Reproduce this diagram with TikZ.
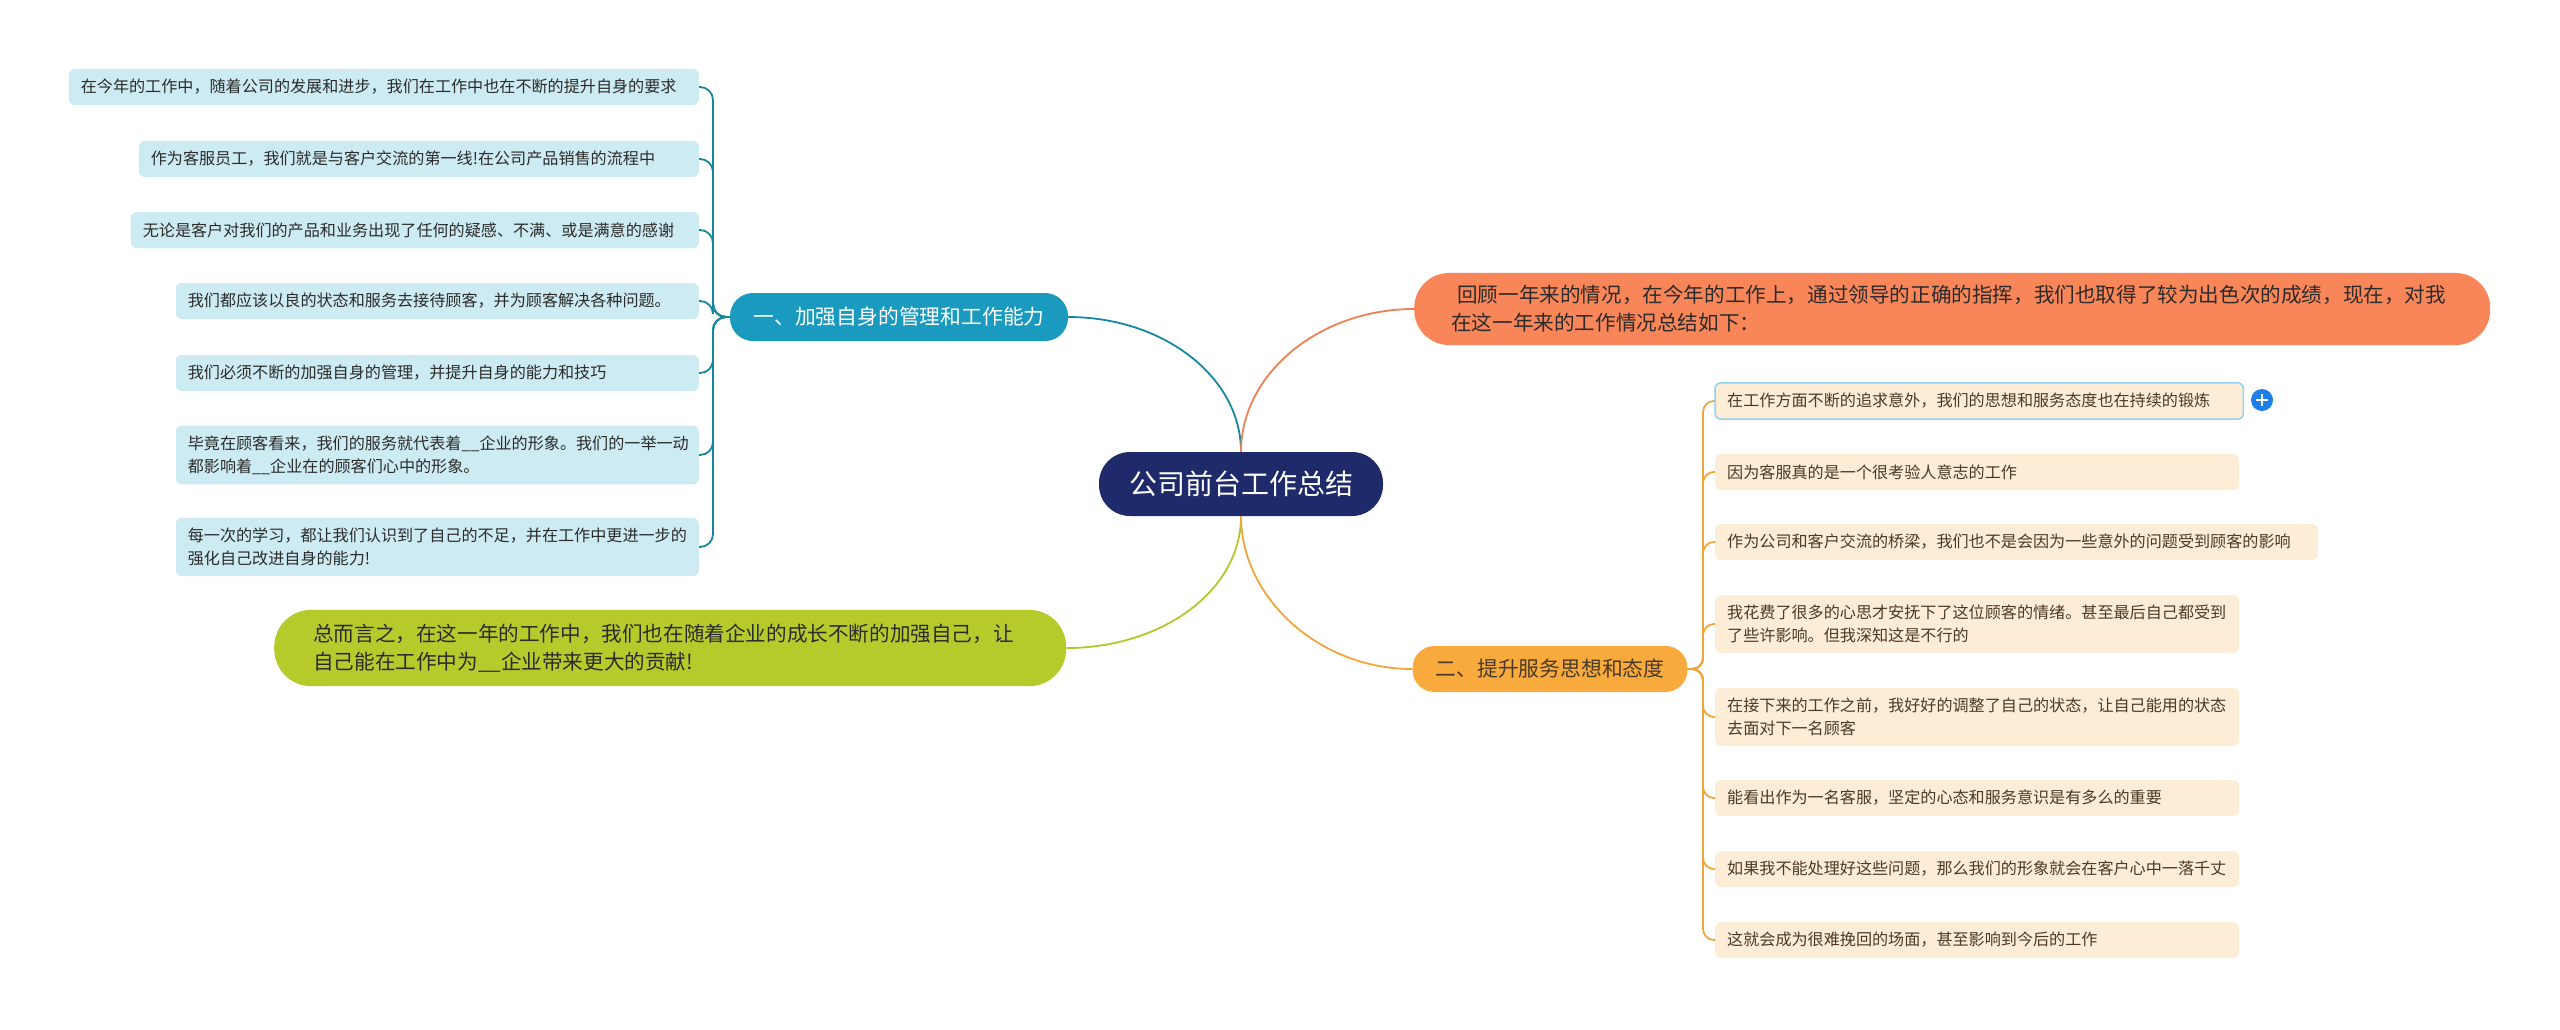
\documentclass[tikz,border=0pt]{standalone}
\usepackage{fontspec}
\setmainfont{Noto Sans CJK SC}
\usepackage{xcolor}
\usepackage{tikz}
\usetikzlibrary{calc}
\definecolor{rootNavy}{HTML}{1F2A6B}
\definecolor{brTeal}{HTML}{1A9ABF}
\definecolor{lnTeal}{HTML}{16879F}
\definecolor{leafBlue}{HTML}{CDEBF2}
\definecolor{introOrange}{HTML}{F88659}
\definecolor{lnOrange}{HTML}{EC8152}
\definecolor{brAmber}{HTML}{F9AA3D}
\definecolor{lnAmber}{HTML}{F2A53A}
\definecolor{leafPeach}{HTML}{FDEDD6}
\definecolor{sumGreen}{HTML}{B7CA2C}
\definecolor{lnGreen}{HTML}{B3C72B}
\definecolor{selBlue}{HTML}{8FD1EE}
\definecolor{plusBlue}{HTML}{1F7FE9}
\definecolor{inkDark}{HTML}{2B2B2B}
\definecolor{inkBrown}{HTML}{4A3A26}

\begin{document}
\begin{tikzpicture}[x=1pt,y=-1pt,
  leaf/.style={rounded corners=6pt, align=left, inner xsep=12pt, inner ysep=10pt,
    minimum height=36pt, font=\fontsize{16.1pt}{23pt}\selectfont},
  leafa/.style={leaf, fill=leafBlue, text=inkDark, anchor=east},
  leafb/.style={leaf, fill=leafPeach, text=inkBrown, anchor=west},
  branch/.style={font=\fontsize{20.8pt}{26pt}\selectfont, inner xsep=0pt},
  big/.style={align=left, font=\fontsize{20.6pt}{28pt}\selectfont, anchor=west},
  tline/.style={lnTeal, line width=1.8pt, rounded corners=13pt},
  aline/.style={lnAmber, line width=1.8pt, rounded corners=11pt}]
\useasboundingbox (0,0) rectangle (2560,1029);
% centre and main branches
\node[fill=rootNavy, text=white, rounded corners=31pt, minimum width=284pt, minimum height=64pt,
  font=\fontsize{28pt}{34pt}\selectfont] (root) at (1241,484) {公司前台工作总结};
\node[branch, fill=brTeal, text=white, rounded corners=23pt, minimum width=338pt, minimum height=48pt]
  (b1) at (899,317) {一、加强自身的管理和工作能力};
\node[branch, fill=brAmber, text=inkBrown, rounded corners=22pt, minimum width=275pt, minimum height=46pt]
  (b2) at (1550,669) {二、提升服务思想和态度};
\node[big, fill=introOrange, text=inkDark, rounded corners=35pt, text width=1002pt, inner xsep=37pt, inner ysep=12.5pt]
  (intro) at (1414,309) {\hspace*{0.3em}回顾一年来的情况，在今年的工作上，通过领导的正确的指挥，我们也取得了较为出色次的成绩，现在，对我\\在这一年来的工作情况总结如下：};
\node[big, fill=sumGreen, text=inkDark, rounded corners=37pt, text width=714pt, inner xsep=39pt, inner ysep=14pt]
  (summ) at (274,648) {总而言之，在这一年的工作中，我们也在随着企业的成长不断的加强自己，让\\自己能在工作中为\_\_企业带来更大的贡献!};
% left leaves
\foreach \i/\y/\w/\t in {
  1/87/606/{在今年的工作中，随着公司的发展和进步，我们在工作中也在不断的提升自身的要求},
  2/159/536/{作为客服员工，我们就是与客户交流的第一线!在公司产品销售的流程中},
  3/230/544/{无论是客户对我们的产品和业务出现了任何的疑感、不满、或是满意的感谢},
  4/301/499/{我们都应该以良的状态和服务去接待顾客，并为顾客解决各种问题。},
  5/373/499/{我们必须不断的加强自身的管理，并提升自身的能力和技巧},
  6/455/499/{毕竟在顾客看来，我们的服务就代表着\_\_企业的形象。我们的一举一动\\都影响着\_\_企业在的顾客们心中的形象。},
  7/547/499/{每一次的学习，都让我们认识到了自己的不足，并在工作中更进一步的\\强化自己改进自身的能力!}}{
  \node[leafa, text width=\w pt] (la\i) at (699,\y) {\t};
  \draw[tline] (b1.west) -| ($(la\i.east)+(14,0)$) -- (la\i.east);
}
% right leaves
\foreach \i/\y/\w/\t in {
  1/401/504/{在工作方面不断的追求意外，我们的思想和服务态度也在持续的锻炼},
  2/472/500/{因为客服真的是一个很考验人意志的工作},
  3/542/579/{作为公司和客户交流的桥梁，我们也不是会因为一些意外的问题受到顾客的影响},
  4/624/500/{我花费了很多的心思才安抚下了这位顾客的情绪。甚至最后自己都受到\\了些许影响。但我深知这是不行的},
  5/717/500/{在接下来的工作之前，我好好的调整了自己的状态，让自己能用的状态\\去面对下一名顾客},
  6/798/500/{能看出作为一名客服，坚定的心态和服务意识是有多么的重要},
  7/869/500/{如果我不能处理好这些问题，那么我们的形象就会在客户心中一落千丈},
  8/940/500/{这就会成为很难挽回的场面，甚至影响到今后的工作}}{
  \node[leafb, text width=\w pt] (lb\i) at (1715,\y) {\t};
  \draw[aline] (b2.east) -| ($(lb\i.west)+(-12,0)$) -- (lb\i.west);
}
\draw[selBlue, line width=1.5pt, rounded corners=6pt] (lb1.south west) rectangle (lb1.north east);
\node[circle, fill=plusBlue, minimum size=22pt, inner sep=0pt] (plus) at (2262,400) {};
\draw[white, line width=2.6pt] ($(plus.center)+(-6,0)$) -- ($(plus.center)+(6,0)$)
  ($(plus.center)+(0,-6)$) -- ($(plus.center)+(0,6)$);
% links from the centre
\draw[lnTeal, line width=1.8pt] (root.north) .. controls +(0,-75) and +(95,0) .. (b1.east);
\draw[lnOrange, line width=1.8pt] (root.north) .. controls +(0,-78) and +(-95,0) .. (intro.west);
\draw[lnGreen, line width=1.8pt] (root.south) .. controls +(0,75) and +(95,0) .. (summ.east);
\draw[lnAmber, line width=1.8pt] (root.south) .. controls +(0,80) and +(-95,0) .. (b2.west);
\end{tikzpicture}
\end{document}
